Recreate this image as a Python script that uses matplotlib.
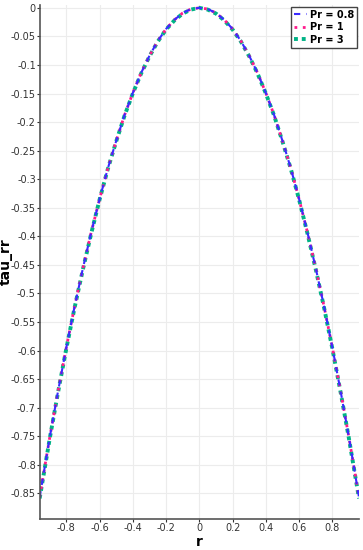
import numpy as np
import matplotlib.pyplot as plt

# values (tau_rr against r), three Pr cases nearly on top of each other
r = [-0.96, -0.9, -0.85, -0.8, -0.75, -0.7, -0.65, -0.6, -0.55, -0.5, -0.45, -0.4, -0.35,
     -0.3, -0.25, -0.2, -0.15, -0.1, -0.05, 0.0, 0.05, 0.1, 0.15, 0.2, 0.25, 0.3, 0.35,
     0.4, 0.45, 0.5, 0.55, 0.6, 0.65, 0.7, 0.75, 0.8, 0.85, 0.9, 0.96]
tau_pr08 = [-0.857, -0.753, -0.672, -0.595, -0.523, -0.456, -0.393, -0.335, -0.281, -0.233,
            -0.188, -0.149, -0.114, -0.084, -0.058, -0.037, -0.021, -0.009, -0.002, 0.0,
            -0.002, -0.009, -0.021, -0.037, -0.058, -0.084, -0.114, -0.149, -0.188, -0.233,
            -0.281, -0.335, -0.393, -0.456, -0.523, -0.595, -0.672, -0.753, -0.857]
tau_pr1 = [-0.857, -0.753, -0.672, -0.595, -0.523, -0.456, -0.393, -0.335, -0.281, -0.233,
           -0.188, -0.149, -0.114, -0.084, -0.058, -0.037, -0.021, -0.009, -0.002, 0.0,
           -0.002, -0.009, -0.021, -0.037, -0.058, -0.084, -0.114, -0.149, -0.188, -0.233,
           -0.281, -0.335, -0.393, -0.456, -0.523, -0.595, -0.672, -0.753, -0.857]
tau_pr3 = [-0.859, -0.755, -0.674, -0.597, -0.525, -0.458, -0.395, -0.336, -0.282, -0.234,
           -0.189, -0.150, -0.115, -0.085, -0.059, -0.038, -0.022, -0.010, -0.003, 0.0,
           -0.003, -0.010, -0.022, -0.038, -0.059, -0.085, -0.115, -0.150, -0.189, -0.234,
           -0.282, -0.336, -0.395, -0.458, -0.525, -0.597, -0.674, -0.755, -0.859]

xticks = [-0.8, -0.6, -0.4, -0.2, 0, 0.2, 0.4, 0.6, 0.8]
xlabels = ['-0.8', '-0.6', '-0.4', '-0.2', '0', '0.2', '0.4', '0.6', '0.8']
yticks = [0, -0.05, -0.1, -0.15, -0.2, -0.25, -0.3, -0.35, -0.4, -0.45, -0.5, -0.55,
          -0.6, -0.65, -0.7, -0.75, -0.8, -0.85]
ylabels = ['0', '-0.05', '-0.1', '-0.15', '-0.2', '-0.25', '-0.3', '-0.35', '-0.4', '-0.45',
           '-0.5', '-0.55', '-0.6', '-0.65', '-0.7', '-0.75', '-0.8', '-0.85']

plt.rcParams['font.family'] = ['DejaVu Sans']

fig = plt.figure(figsize=(3.63, 5.5), dpi=100)
ax = fig.add_axes([40 / 363, 31 / 550, 319 / 363, 514 / 550])

ax.plot(r, tau_pr3, color='#00b386', linestyle=(0, (1, 1)), linewidth=2.8, label='Pr = 3')
ax.plot(r, tau_pr1, color='#ff1a8c', linestyle=(0, (1, 2)), linewidth=2.0, label='Pr = 1')
ax.plot(r, tau_pr08, color='#3a2bff', linestyle=(0, (3, 3)), linewidth=1.5, label='Pr = 0.8')

ax.set_xlim(-0.958, 0.96)
ax.set_ylim(-0.895, 0.005)
ax.set_xticks(xticks)
ax.set_xticklabels(xlabels)
ax.set_yticks(yticks)
ax.set_yticklabels(ylabels)
ax.tick_params(labelsize=7, colors='#333333', length=2, width=0.8, pad=1)
ax.grid(True, color='#ececec', linewidth=0.8)
ax.set_axisbelow(True)

for s in ['top', 'right']:
    ax.spines[s].set_visible(False)
for s in ['left', 'bottom']:
    ax.spines[s].set_color('#555555')
    ax.spines[s].set_linewidth(1.2)

ax.set_xlabel('r', fontsize=10, fontweight='bold', labelpad=1)
ax.set_ylabel('tau_rr', fontsize=10, fontweight='bold')
ax.yaxis.set_label_coords(-27 / 319, 0.5)

handles, labels = ax.get_legend_handles_labels()
leg = ax.legend(handles[::-1], labels[::-1], loc='upper right',
                prop={'weight': 'bold', 'size': 7}, handlelength=1.3, handletextpad=0.3,
                borderpad=0.3, labelspacing=0.25, fancybox=False, framealpha=1,
                borderaxespad=0.2, bbox_to_anchor=(1.0, 1.0))
leg.get_frame().set_edgecolor('#444444')
leg.get_frame().set_linewidth(1.0)

fig.savefig('out.png', dpi=100)
